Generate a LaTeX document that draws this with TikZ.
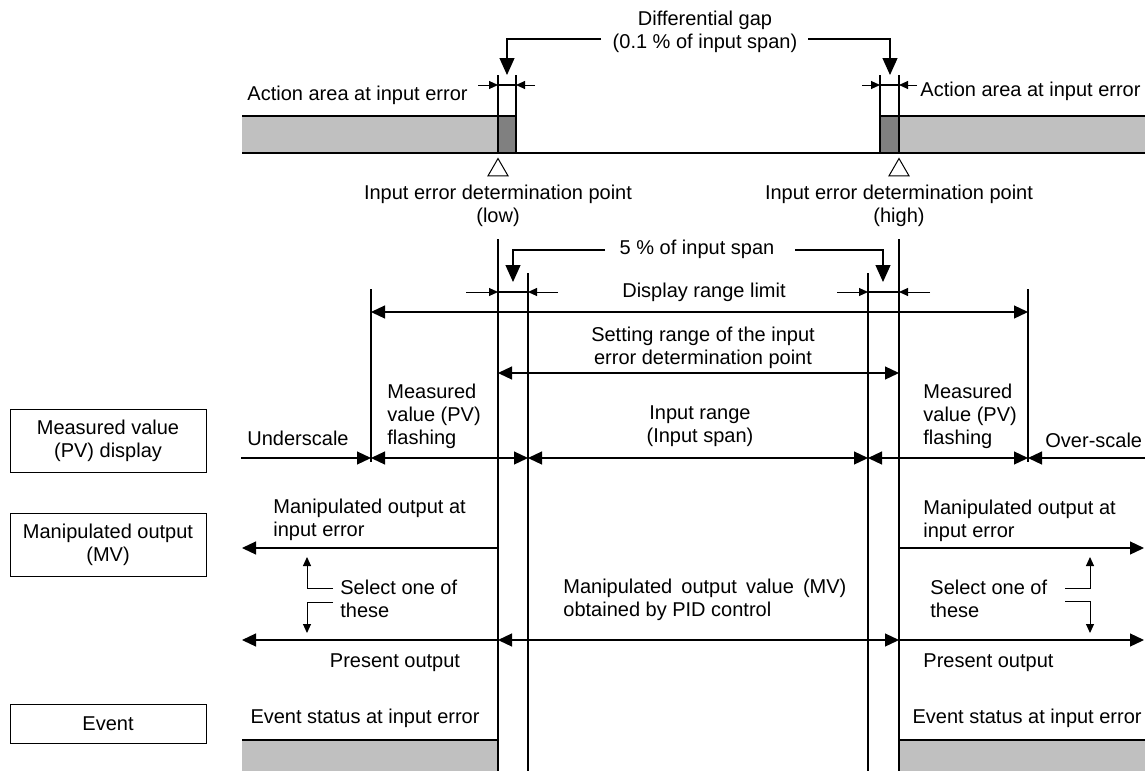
\documentclass[tikz,border=0pt]{standalone}
\usepackage{fontspec}
\setmainfont{Liberation Sans}
\usepackage{tikz}
\usetikzlibrary{arrows.meta,shapes.geometric}
\definecolor{lightfill}{RGB}{192,192,192}
\definecolor{darkfill}{RGB}{128,128,128}
\tikzset{
  lbl/.style={font=\fontsize{10}{11.5}\selectfont, inner sep=0pt, align=#1},
  lbl/.default=center,
  box/.style={draw, line width=0.5pt, minimum width=98pt, minimum height=#1, inner sep=0pt, align=center, font=\fontsize{10}{11.5}\selectfont},
  box/.default=32pt,
  thinline/.style={line width=0.6pt},
  dimarrow/.style={line width=0.6pt, -{Triangle[length=7pt,width=6.5pt]}},
  dimboth/.style={line width=0.6pt, {Triangle[length=7pt,width=6.5pt]}-{Triangle[length=7pt,width=6.5pt]}},
  smallarrow/.style={line width=0.5pt, -{Triangle[length=4.5pt,width=4pt]}},
  leader/.style={line width=0.6pt, -{Triangle[length=8.5pt,width=7.5pt]}},
  tri/.style={draw, line width=0.5pt, regular polygon, regular polygon sides=3, minimum size=11.5pt, inner sep=0pt}
}
\begin{document}
\begin{tikzpicture}[x=0.5pt,y=-0.5pt]
  \useasboundingbox (0,0) rectangle (1145,771);
  \node[box=31.5pt] (pvbox) at (108,441) {Measured value\\(PV) display};
  \node[box=31.5pt] (mvbox) at (108,545) {Manipulated output\\(MV)};
  \node[box=19.5pt] (evbox) at (108,724) {Event};

  \fill[lightfill] (242,116) rectangle (498,153);
  \fill[darkfill] (498,116) rectangle (516,153);
  \fill[darkfill] (880,116) rectangle (899,153);
  \fill[lightfill] (899,116) rectangle (1145,153);
  \fill[lightfill] (242,740) rectangle (498,771);
  \fill[lightfill] (899,740) rectangle (1145,771);
  \draw[thinline] (242,116) -- (516,116) (880,116) -- (1145,116) (242,153) -- (1145,153);
  \draw[thinline] (242,740) -- (498,740) (899,740) -- (1145,740);
  \draw[thinline] (498,75) -- (498,153) (516,75) -- (516,153) (880,75) -- (880,153) (899,75) -- (899,153);
  \draw[thinline] (498,85) -- (516,85) (880,85) -- (899,85);
  \draw[smallarrow] (478,85) -- (498,85);
  \draw[smallarrow] (535,85) -- (516,85);
  \draw[smallarrow] (862,85) -- (880,85);
  \draw[smallarrow] (917,85) -- (899,85);
  \node[lbl, anchor=east] (actl) at (468,95) {Action area at input error};
  \node[lbl, anchor=west] (actr) at (920,91) {Action area at input error};
  \node[lbl] (dgap) at (705,32) {Differential gap\\(0.1 \% of input span)};
  \draw[leader] (601,39) -| (507,75);
  \draw[leader] (808,39) -| (890,75);
  \node[tri] (tril) at (498,170) {};
  \node[tri] (trir) at (899,170) {};
  \node[lbl] (detl) at (498,206) {Input error determination point\\(low)};
  \node[lbl] (detr) at (899,206) {Input error determination point\\(high)};

  \draw[thinline] (498,239) -- (498,771) (528,273) -- (528,771) (868,273) -- (868,771) (899,239) -- (899,771);
  \draw[thinline] (371,289) -- (371,462) (1028,289) -- (1028,462);
  \node[lbl] (pct) at (697,249) {5 \% of input span};
  \draw[leader] (605,250) -| (513,282);
  \draw[leader] (795,250) -| (883,282);
  \node[lbl] (dlim) at (704,292) {Display range limit};
  \draw[smallarrow] (466,292) -- (498,292);
  \draw[smallarrow] (558,292) -- (528,292);
  \draw[smallarrow] (837,292) -- (868,292);
  \draw[smallarrow] (930,292) -- (899,292);
  \draw[thinline] (498,292) -- (528,292) (868,292) -- (899,292);
  \draw[dimboth] (371,312) -- (1028,312);
  \node[lbl] (setr) at (703,348) {Setting range of the input\\error determination point};
  \draw[dimboth] (498,373) -- (899,373);

  \node[lbl] (under) at (298,438) {Underscale};
  \node[lbl=left, anchor=west] (flashl) at (387,416) {Measured\\value (PV)\\flashing};
  \node[lbl] (inrange) at (700,426) {Input range\\(Input span)};
  \node[lbl=left, anchor=west] (flashr) at (923,416) {Measured\\value (PV)\\flashing};
  \node[lbl, anchor=west] (over) at (1045,440) {Over-scale};
  \draw[dimarrow] (241,458) -- (371,458);
  \draw[dimboth] (371,458) -- (528,458);
  \draw[dimboth] (528,458) -- (868,458);
  \draw[dimboth] (868,458) -- (1028,458);
  \draw[dimarrow] (1145,458) -- (1028,458);

  \node[lbl=left, anchor=west] (mvl) at (273,520) {Manipulated output at\\input error};
  \node[lbl=left, anchor=west] (mvr) at (923,521) {Manipulated output at\\input error};
  \draw[dimarrow] (498,548) -- (242,548);
  \draw[dimarrow] (899,548) -- (1144,548);
  \node[lbl=left, anchor=west] (sell) at (340,599) {Select one of\\these};
  \draw[smallarrow] (333,588) -| (307,557);
  \draw[smallarrow] (333,602) -| (307,633);
  \node[lbl=left, anchor=west] (selr) at (930,599) {Select one of\\these};
  \draw[smallarrow] (1065,588) -| (1090,557);
  \draw[smallarrow] (1065,601) -| (1090,633);
  \node[lbl=justify, anchor=west, text width=141.5pt] (pid) at (563,600) {Manipulated output value (MV) obtained by PID control};
  \draw[dimarrow] (498,640) -- (242,640);
  \draw[dimboth] (498,640) -- (899,640);
  \draw[dimarrow] (899,640) -- (1144,640);
  \node[lbl] (presl) at (395,663) {Present output};
  \node[lbl, anchor=west] (presr) at (923,663) {Present output};
  \node[lbl] (evl) at (365,718) {Event status at input error};
  \node[lbl, anchor=east] (evr) at (1142,718) {Event status at input error};
\end{tikzpicture}
\end{document}
